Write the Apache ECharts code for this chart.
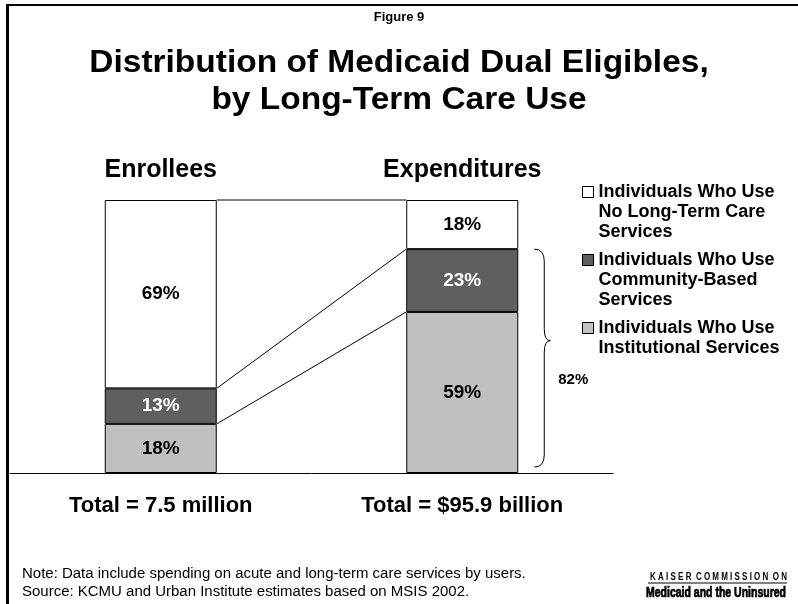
<!DOCTYPE html>
<html>
<head>
<meta charset="utf-8">
<script src="https://cdn.jsdelivr.net/npm/echarts@6/dist/echarts.min.js"></script>
<style>
html,body{margin:0;padding:0;background:#fff;}
#chart{width:798px;height:604px;}
</style>
</head>
<body>
<div id="chart"></div>
<script>
// ---- data ----
const categories = ['Enrollees', 'Expenditures'];
const totals = ['Total = 7.5 million', 'Total = $95.9 billion'];
const institutional = [18, 59];
const community = [13, 23];
const noLtc = [69, 18];
const seriesNames = [
  'Individuals Who Use\nNo Long-Term Care\nServices',
  'Individuals Who Use\nCommunity-Based\nServices',
  'Individuals Who Use\nInstitutional Services'
];

// ---- derived ----
const commTop = community.map((v, i) => v + institutional[i]);
const allTop = noLtc.map((v, i) => v + commTop[i]);
const seriesLineData = [
  [0, institutional[0], institutional[1]],
  [0, commTop[0], commTop[1]],
  [0, allTop[0], allTop[1]]
];
const braceData = [[1, commTop[1], 0]];

const BAR_W = 112;
const FONT = 'Liberation Sans, Arial, Helvetica, sans-serif';

const chart = echarts.init(document.getElementById('chart'), null, {renderer: 'canvas'});

const labelBase = {
  show: true, position: 'inside', formatter: '{c}%',
  fontFamily: FONT, fontWeight: 'bold', fontSize: 19, color: '#000'
};

function legendFor(name, top) {
  const lines = name.split('\n').length;
  const pre = '\n'.repeat(lines - 1);
  return {
    data: [name], orient: 'vertical', left: 582, top: top, padding: 0,
    selectedMode: false, itemWidth: 11, itemHeight: 11,
    icon: 'rect',
    formatter: function (n) { return pre + n; },
    itemStyle: {borderColor: '#000', borderWidth: 1},
    textStyle: {fontFamily: FONT, fontWeight: 'bold', fontSize: 18, color: '#000', lineHeight: 20}
  };
}

const option = {
  backgroundColor: '#fff',
  animation: false,
  legend: [
    legendFor(seriesNames[0], 142),
    legendFor(seriesNames[1], 210),
    legendFor(seriesNames[2], 298)
  ],
  grid: {left: 10, right: 185, top: 200, height: 273, containLabel: false},
  xAxis: [
    {type: 'category', data: totals, position: 'bottom',
      axisLine: {show: true, lineStyle: {color: '#000', width: 1}},
      axisTick: {show: false}, splitLine: {show: false},
      axisLabel: {margin: 22, fontFamily: FONT, fontWeight: 'bold', fontSize: 22, color: '#000'}},
    {type: 'category', data: categories, position: 'top',
      axisLine: {show: false}, axisTick: {show: false},
      axisLabel: {margin: 17, fontFamily: FONT, fontWeight: 'bold', fontSize: 25, color: '#000'}}
  ],
  yAxis: {type: 'value', min: 0, max: 100, show: false},
  series: [
    {name: seriesNames[2], type: 'bar', stack: 'a', data: institutional, barWidth: BAR_W,
      itemStyle: {color: '#C0C0C0', borderColor: '#000', borderWidth: 1},
      label: Object.assign({}, labelBase)},
    {name: seriesNames[1], type: 'bar', stack: 'a', data: community, barWidth: BAR_W,
      itemStyle: {color: '#5F5F5F', borderColor: '#000', borderWidth: 1},
      label: Object.assign({}, labelBase, {color: '#fff'})},
    {name: seriesNames[0], type: 'bar', stack: 'a', data: noLtc, barWidth: BAR_W,
      itemStyle: {color: '#FFFFFF', borderColor: '#000', borderWidth: 1},
      label: Object.assign({}, labelBase)},
    {type: 'custom', name: 'seriesLines', silent: true, data: seriesLineData,
      encode: {x: 0, y: [1, 2]}, z: 5,
      renderItem: function (params, api) {
        const a = api.coord([0, api.value(1)]);
        const b = api.coord([1, api.value(2)]);
        return {type: 'line',
          shape: {x1: a[0] + BAR_W / 2, y1: a[1], x2: b[0] - BAR_W / 2, y2: b[1]},
          style: {stroke: '#000', lineWidth: 1}};
      }},
    {type: 'custom', name: 'brace', silent: true, data: braceData,
      encode: {x: 0, y: [1, 2]}, z: 5,
      renderItem: function (params, api) {
        const t = api.coord([api.value(0), api.value(1)]);
        const bt = api.coord([api.value(0), api.value(2)]);
        const x0 = t[0] + BAR_W / 2 + 16;
        const xm = x0 + 10;
        const xt = xm + 6;
        const yt = t[1];
        const yb = bt[1] - 6;
        const yc = yt + (yb - yt) * 0.42;
        const r = 12;
        const d = 'M' + x0 + ' ' + yt +
          ' Q' + xm + ' ' + yt + ' ' + xm + ' ' + (yt + r) +
          ' L' + xm + ' ' + (yc - r) +
          ' Q' + xm + ' ' + yc + ' ' + xt + ' ' + yc +
          ' Q' + xm + ' ' + yc + ' ' + xm + ' ' + (yc + r) +
          ' L' + xm + ' ' + (yb - r) +
          ' Q' + xm + ' ' + yb + ' ' + x0 + ' ' + yb;
        return {type: 'group', children: [
          {type: 'path', shape: {pathData: d},
            style: {stroke: '#000', lineWidth: 1, fill: null}},
          {type: 'text', style: {text: (api.value(1) - api.value(2)) + '%', x: xm + 14, y: yc + 39,
            fontFamily: FONT, fontWeight: 'bold', fontSize: 15, fill: '#000',
            verticalAlign: 'middle', align: 'left'}}
        ]};
      }}
  ],
  graphic: [
    {type: 'rect', shape: {x: 6, y: 4, width: 792, height: 2}, style: {fill: '#000'}, silent: true},
    {type: 'rect', shape: {x: 6, y: 4, width: 3, height: 600}, style: {fill: '#000'}, silent: true},
    {type: 'text', x: 399, y: 17, silent: true,
      style: {text: 'Figure 9', align: 'center', verticalAlign: 'middle',
        fontFamily: FONT, fontWeight: 'bold', fontSize: 13, fill: '#000'}},
    {type: 'text', x: 399, y: 63, silent: true, scaleX: 1.08,
      style: {text: 'Distribution of Medicaid Dual Eligibles,', align: 'center', verticalAlign: 'middle',
        fontFamily: FONT, fontWeight: 'bold', fontSize: 31, fill: '#000'}},
    {type: 'text', x: 399, y: 100, silent: true, scaleX: 1.08,
      style: {text: 'by Long-Term Care Use', align: 'center', verticalAlign: 'middle',
        fontFamily: FONT, fontWeight: 'bold', fontSize: 31, fill: '#000'}},
    {type: 'text', x: 22, y: 574, silent: true, scaleX: 1.07,
      style: {text: 'Note: Data include spending on acute and long-term care services by users.',
        verticalAlign: 'middle', fontFamily: FONT, fontSize: 14, fill: '#000'}},
    {type: 'text', x: 22, y: 592, silent: true, scaleX: 1.07,
      style: {text: 'Source: KCMU and Urban Institute estimates based on MSIS 2002.',
        verticalAlign: 'middle', fontFamily: FONT, fontSize: 14, fill: '#000'}},
    {type: 'text', x: 787, y: 577, silent: true, scaleX: 0.8,
      style: {text: 'K A I S E R  C O M M I S S I O N  O N', align: 'right', verticalAlign: 'middle',
        fontFamily: FONT, fontWeight: 'bold', fontSize: 10, fill: '#000'}},
    {type: 'line', shape: {x1: 648, y1: 583, x2: 787, y2: 583}, style: {stroke: '#000', lineWidth: 1}, silent: true},
    {type: 'text', x: 786, y: 593, silent: true, scaleX: 0.75,
      style: {text: 'Medicaid and the Uninsured', align: 'right', verticalAlign: 'middle',
        fontFamily: FONT, fontWeight: 900, fontSize: 14, fill: '#000',
        stroke: '#000', lineWidth: 0.7}}
  ]
};
chart.setOption(option);
</script>
</body>
</html>
